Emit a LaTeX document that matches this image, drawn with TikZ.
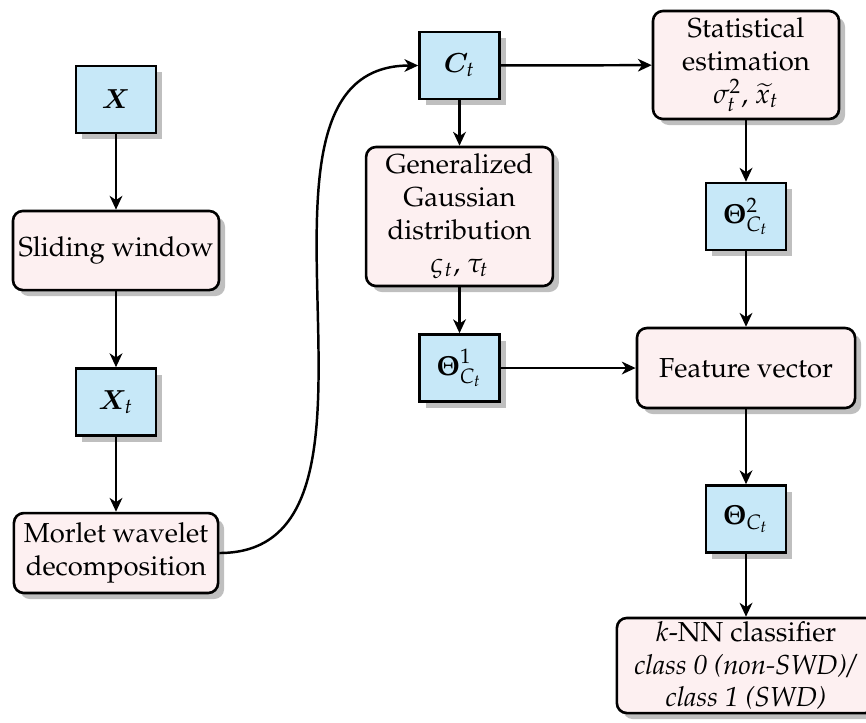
\documentclass[tikz,border=0pt]{standalone}
\usepackage{amsmath,bm}
\usepackage[T1]{fontenc}
\usepackage{mathpazo}
\usetikzlibrary{shadows,arrows.meta}
\definecolor{bluefill}{RGB}{199,232,248}
\definecolor{pinkfill}{RGB}{253,240,241}
\tikzset{
  shadowed/.style={drop shadow={shadow xshift=2.2pt,shadow yshift=-2.2pt,fill=black!25,opacity=1}},
  sqbox/.style={draw=black,line width=0.95pt,fill=bluefill,shadowed,minimum width=29.1pt,minimum height=24.4pt,inner sep=0pt},
  rbox/.style={draw=black,line width=0.95pt,fill=pinkfill,shadowed,rounded corners=3.6pt,align=center,inner sep=1pt},
  arr/.style={line width=0.9pt,-{Stealth[length=5pt,width=4.6pt,inset=1.5pt]}}
}
\begin{document}
\begin{tikzpicture}[x=0.364pt,y=-0.364pt]
\useasboundingbox (0,0) rectangle (866,722);
\node[sqbox] (x) at (116,99.5) {$\bm{X}$};
\node[rbox,minimum width=75pt,minimum height=28.8pt] (sw) at (116,250.5) {Sliding window};
\node[sqbox] (xt) at (116,402) {$\bm{X}_t$};
\node[rbox,minimum width=74.3pt,minimum height=29.1pt] (mw) at (116,553) {Morlet wavelet\\decomposition};
\node[sqbox] (ct) at (459.5,65.5) {$\bm{C}_t$};
\node[rbox,minimum width=68pt,minimum height=50.6pt] (gg) at (459.5,216.5) {Generalized\\Gaussian\\distribution\\$\varsigma_t$, $\tau_t$};
\node[sqbox] (t1) at (459.5,368) {$\bm{\Theta}^1_{C_t}$};
\node[rbox,minimum width=67.7pt,minimum height=39.3pt] (se) at (746,65) {Statistical\\estimation\\$\sigma^2_t$, $\widetilde{x}_t$};
\node[sqbox] (t2) at (746,216.5) {$\bm{\Theta}^2_{C_t}$};
\node[rbox,minimum width=79.4pt,minimum height=29.1pt] (fv) at (746,368) {Feature vector};
\node[sqbox] (tc) at (746,519) {$\bm{\Theta}_{C_t}$};
\node[rbox,minimum width=94pt,minimum height=34.6pt] (kn) at (746,665.5) {$k$-NN classifier\\\textit{class 0 (non-SWD)/}\\\textit{class 1 (SWD)}};
\draw[arr] (x) -- (sw);
\draw[arr] (sw) -- (xt);
\draw[arr] (xt) -- (mw);
\draw[arr] (mw.east) to[out=0,in=180] (ct.west);
\draw[arr] (ct) -- (se);
\draw[arr] (ct) -- (gg);
\draw[arr] (gg) -- (t1);
\draw[arr] (t1) -- (fv);
\draw[arr] (se) -- (t2);
\draw[arr] (t2) -- (fv);
\draw[arr] (fv) -- (tc);
\draw[arr] (tc) -- (kn);
\end{tikzpicture}
\end{document}
